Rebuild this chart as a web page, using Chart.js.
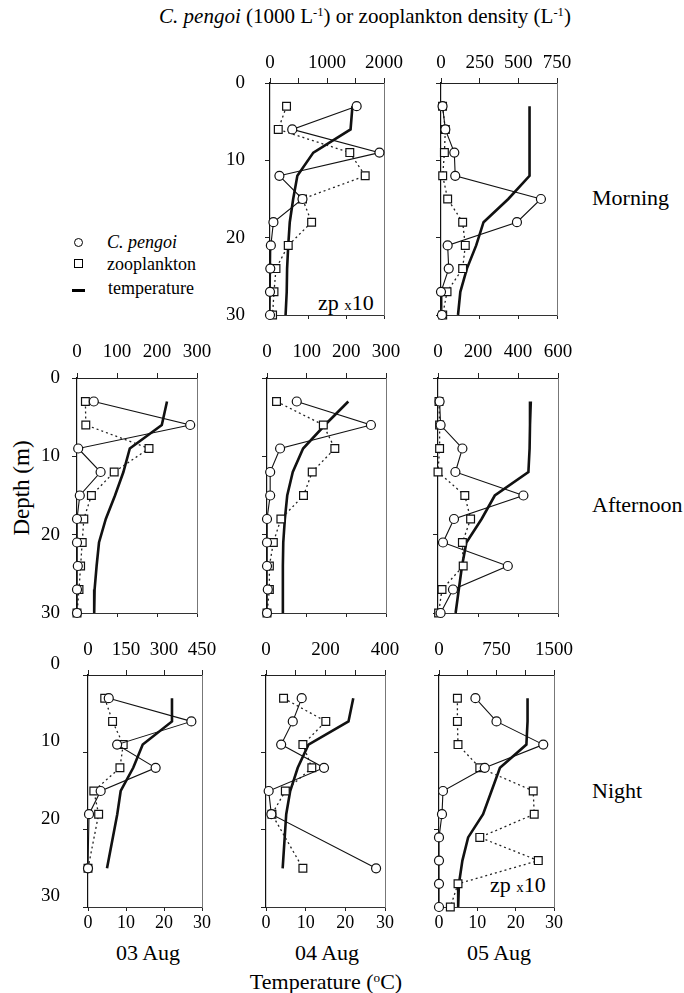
<!DOCTYPE html>
<html>
<head>
<meta charset="utf-8">
<script src="https://cdn.jsdelivr.net/npm/chart.js@4.4.0/dist/chart.umd.min.js"></script>
<style>
  body { margin: 0; background: #fff; }
  #fig { position: relative; width: 684px; height: 993px; overflow: hidden;
         font-family: 'Liberation Serif', 'DejaVu Serif', serif; color: #000; }
  #fig canvas { position: absolute; }
  .txt { position: absolute; white-space: nowrap; line-height: 1; transform: translate(-50%, -50%); }
  .lft { transform: translate(0, -50%); }
  sup { font-size: 0.6em; vertical-align: 0.55em; line-height: 0; }
  .mk { position: absolute; box-sizing: border-box; border: 1.5px solid #000; width: 9px; height: 9px; }
</style>
</head>
<body>
<div id="fig">
  <div class="txt" style="left:365px; top:16px; font-size:21px;"><i>C. pengoi</i> (1000 L<sup>-1</sup>) or zooplankton density (L<sup>-1</sup>)</div>

  <span class="mk" style="left:74px; top:238px; border-radius:50%;"></span>
  <div class="txt lft" style="left:107px; top:242px; font-size:18px;"><i>C. pengoi</i></div>
  <span class="mk" style="left:74px; top:259px;"></span>
  <div class="txt lft" style="left:107px; top:264px; font-size:18px;">zooplankton</div>
  <span class="mk" style="left:72px; top:289px; width:13px; height:2.5px; border:0; background:#000;"></span>
  <div class="txt lft" style="left:108px; top:288px; font-size:18px;">temperature</div>

  <div class="txt" style="left:21px; top:488px; font-size:23px; transform:translate(-50%,-50%) rotate(-90deg);">Depth (m)</div>

  <div class="txt lft" style="left:592px; top:198px; font-size:22px;">Morning</div>
  <div class="txt lft" style="left:592px; top:505px; font-size:22px;">Afternoon</div>
  <div class="txt lft" style="left:592px; top:791px; font-size:22px;">Night</div>

  <div class="txt lft" style="left:318px; top:303px; font-size:22px;">zp <span style="font-size:15px">x</span>10</div>
  <div class="txt lft" style="left:490px; top:885px; font-size:22px;">zp <span style="font-size:15px">x</span>10</div>

  <div class="txt" style="left:148px; top:953px; font-size:22px;">03 Aug</div>
  <div class="txt" style="left:327px; top:953px; font-size:22px;">04 Aug</div>
  <div class="txt" style="left:499px; top:953px; font-size:22px;">05 Aug</div>
  <div class="txt" style="left:326px; top:982px; font-size:22px;">Temperature (<sup>o</sup>C)</div>
</div>

<script>
const SERIF = "'Liberation Serif', 'DejaVu Serif', serif";

// sampling depths (m)
const depthsFull = [3, 6, 9, 12, 15, 18, 21, 24, 27, 30];
const depthsNight = [3, 6, 9, 12, 15, 18, 25];

// Morning, 04 Aug (zooplankton shown x10)
const morning04Pengoi = [1520, 390, 1920, 165, 570, 60, 15, 5, 0, 0];
const morning04Zoo    = [290, 145, 1400, 1670, 570, 730, 320, 105, 70, 45];
const morning04Temp   = [21.7, 21.2, 11.4, 7.2, 6.1, 5.2, 4.8, 4.5, 4.4, 4.1];

// Morning, 05 Aug
const morning05Pengoi = [10, 28, 86, 92, 646, 491, 43, 50, 0, 6];
const morning05Zoo    = [10, 28, 22, 11, 43, 140, 157, 140, 39, 11];
const morning05Temp   = [22.9, 22.9, 22.9, 22.9, 17.4, 11.0, 9.1, 6.7, 5.0, 4.4];

// Afternoon, 03 Aug
const afternoon03Pengoi = [42, 283, 3, 59, 7, 0, 0, 2, 0, 0];
const afternoon03Zoo    = [21, 22, 180, 93, 36, 17, 13, 9, 5, 0];
const afternoon03Temp   = [22.5, 21.2, 13.2, 11.6, 9.5, 7.2, 5.5, 4.9, 4.4, 4.3];

// Afternoon, 04 Aug
const afternoon04Pengoi = [75, 262, 33, 8, 8, 0, 0, 0, 2, 0];
const afternoon04Zoo    = [24, 142, 171, 114, 92, 35, 16, 6, 6, 0];
const afternoon04Temp   = [20.5, 14.6, 9.1, 6.5, 5.1, 4.5, 4.1, 4.0, 4.0, 4.0];

// Afternoon, 05 Aug
const afternoon05Pengoi = [8, 13, 122, 87, 427, 80, 25, 349, 75, 13];
const afternoon05Zoo    = [5, 8, 8, 0, 134, 163, 122, 126, 20, 3];
const afternoon05Temp   = [23.2, 23.0, 22.9, 22.6, 14.2, 10.9, 7.1, 6.0, 5.2, 4.4];

// Night, 03 Aug
const night03Pengoi = [82, 408, 115, 267, 50, 4, 0];
const night03Zoo    = [66, 97, 139, 126, 23, 42, 0];
const night03Temp   = [22.1, 22.1, 14.4, 11.9, 8.6, 7.7, 5.0];

// Night, 04 Aug
const night04Pengoi = [120, 90, 51, 195, 9, 18, 370];
const night04Zoo    = [59, 201, 124, 154, 65, 20, 124];
const night04Temp   = [22.0, 20.8, 10.7, 8.0, 6.1, 5.1, 4.2];

// Night, 05 Aug (zooplankton shown x10)
const night05Pengoi = [475, 750, 1360, 597, 52, 39, 0, 0, 0, 0];
const night05Zoo    = [240, 240, 248, 532, 1229, 1242, 532, 1295, 248, 148];
const night05Temp   = [23.1, 23.1, 22.8, 15.9, 13.7, 11.5, 7.6, 6.1, 5.2, 5.0];

// top density axes: max, tick step, labelled every
const axisMorning04 = [2000, 500, 1000];
const axisMorning05 = [750, 250, 250];
const axisAfternoon03 = [300, 100, 100];
const axisAfternoon04 = [300, 100, 100];
const axisAfternoon05 = [600, 200, 200];
const axisNight03 = [450, 150, 150];
const axisNight04 = [400, 100, 200];
const axisNight05 = [1500, 375, 750];

// panel boxes on the page
const BOXES = {
  m04: { x: 270, y: 83, w: 114, h: 232, topPad: 4, yPad: 20 },
  m05: { x: 441, y: 83, w: 116, h: 232, topPad: 4 },
  a03: { x: 77, y: 378, w: 120, h: 235, topPad: 10, yPad: 12 },
  a04: { x: 267, y: 378, w: 119, h: 235, topPad: 10 },
  a05: { x: 438, y: 378, w: 120, h: 235, topPad: 10 },
  n03: { x: 88, y: 675, w: 114, h: 232, topPad: 9, yPad: 23, yShift: -11 },
  n04: { x: 266, y: 675, w: 119, h: 232, topPad: 9 },
  n05: { x: 439, y: 675, w: 115, h: 232, topPad: 9 }
};

const panels = [
  { id: 'm04', depths: depthsFull, pengoi: morning04Pengoi, zoo: morning04Zoo, temp: morning04Temp, axis: axisMorning04, yLabels: true },
  { id: 'm05', depths: depthsFull, pengoi: morning05Pengoi, zoo: morning05Zoo, temp: morning05Temp, axis: axisMorning05 },
  { id: 'a03', depths: depthsFull, pengoi: afternoon03Pengoi, zoo: afternoon03Zoo, temp: afternoon03Temp, axis: axisAfternoon03, yLabels: true },
  { id: 'a04', depths: depthsFull, pengoi: afternoon04Pengoi, zoo: afternoon04Zoo, temp: afternoon04Temp, axis: axisAfternoon04 },
  { id: 'a05', depths: depthsFull, pengoi: afternoon05Pengoi, zoo: afternoon05Zoo, temp: afternoon05Temp, axis: axisAfternoon05 },
  { id: 'n03', depths: depthsNight, pengoi: night03Pengoi, zoo: night03Zoo, temp: night03Temp, axis: axisNight03, yLabels: true, tempLabels: true },
  { id: 'n04', depths: depthsNight, pengoi: night04Pengoi, zoo: night04Zoo, temp: night04Temp, axis: axisNight04, tempLabels: true },
  { id: 'n05', depths: depthsFull, pengoi: night05Pengoi, zoo: night05Zoo, temp: night05Temp, axis: axisNight05, tempLabels: true }
];

const L = 60, T = 40, R = 30, B = 36;
const charts = [];

Chart.defaults.font.family = SERIF;

function makePanel(p) {
  const box = BOXES[p.id];
  const [max, step, every] = p.axis;
  const canvas = document.createElement('canvas');
  canvas.width = box.w + L + R;
  canvas.height = box.h + T + B;
  canvas.style.left = (box.x - L) + 'px';
  canvas.style.top = (box.y - T) + 'px';
  document.getElementById('fig').appendChild(canvas);

  const pts = vals => vals.map((v, i) => ({ x: v, y: p.depths[i] }));
  const tickFont = { family: SERIF, size: 19 };

  charts.push(new Chart(canvas, {
    type: 'scatter',
    data: {
      datasets: [
        {
          label: 'C. pengoi', data: pts(p.pengoi), xAxisID: 'x', yAxisID: 'y',
          showLine: true, borderColor: '#111', borderWidth: 1.1,
          pointStyle: 'circle', pointRadius: 4.5, pointBorderWidth: 1.2,
          pointBorderColor: '#111', pointBackgroundColor: '#fff', clip: false
        },
        {
          label: 'zooplankton', data: pts(p.zoo), xAxisID: 'x', yAxisID: 'y',
          showLine: true, borderColor: '#222', borderWidth: 1.3, borderDash: [2, 3],
          pointStyle: 'rect', pointRadius: 5.5, pointBorderWidth: 1.2,
          pointBorderColor: '#111', pointBackgroundColor: '#fff', clip: false
        },
        {
          label: 'temperature', data: pts(p.temp), xAxisID: 't', yAxisID: 'y',
          showLine: true, borderColor: '#111', borderWidth: 2.6,
          pointRadius: 0, clip: false
        }
      ]
    },
    options: {
      responsive: false,
      animation: false,
      events: [],
      layout: { padding: 0 },
      plugins: { legend: { display: false }, tooltip: { enabled: false } },
      scales: {
        x: {
          type: 'linear', position: 'top', min: 0, max,
          ticks: {
            stepSize: step, autoSkip: false, maxRotation: 0, padding: box.topPad,
            font: tickFont, color: '#000',
            callback: v => (v % every === 0 ? v : '')
          },
          grid: { drawOnChartArea: false, tickLength: 5, color: '#222' },
          border: { color: '#222', width: 1 },
          afterFit: s => { s.height = T; }
        },
        t: {
          type: 'linear', position: 'bottom', min: 0, max: 30,
          ticks: { stepSize: 10, display: !!p.tempLabels, padding: 1, maxRotation: 0, font: { family: SERIF, size: 18 }, color: '#000' },
          grid: { drawOnChartArea: false, tickLength: 4, color: '#222' },
          border: { color: '#333', width: 1 },
          afterFit: s => { s.height = B; }
        },
        y: {
          type: 'linear', position: 'left', reverse: true, min: 0, max: 30,
          ticks: {
            stepSize: 10, display: !!p.yLabels, padding: box.yPad || 10,
            labelOffset: box.yShift || 0, font: tickFont, color: '#000'
          },
          grid: { drawOnChartArea: false, tickLength: 5, color: '#222' },
          border: { color: '#111', width: 1.2 },
          afterFit: s => { s.width = L; }
        },
        yr: {
          type: 'linear', position: 'right', min: 0, max: 30,
          ticks: { display: false },
          grid: { display: false },
          border: { color: '#777', width: 1, dash: [1, 1] },
          afterFit: s => { s.width = R; }
        }
      }
    }
  }));
}

panels.forEach(makePanel);

// redraw once the serif face is surely available to the canvas
if (document.fonts && document.fonts.load) {
  document.fonts.load("19px 'Liberation Serif'").then(() => {
    charts.forEach(c => c.update('none'));
  });
}
</script>
</body>
</html>
